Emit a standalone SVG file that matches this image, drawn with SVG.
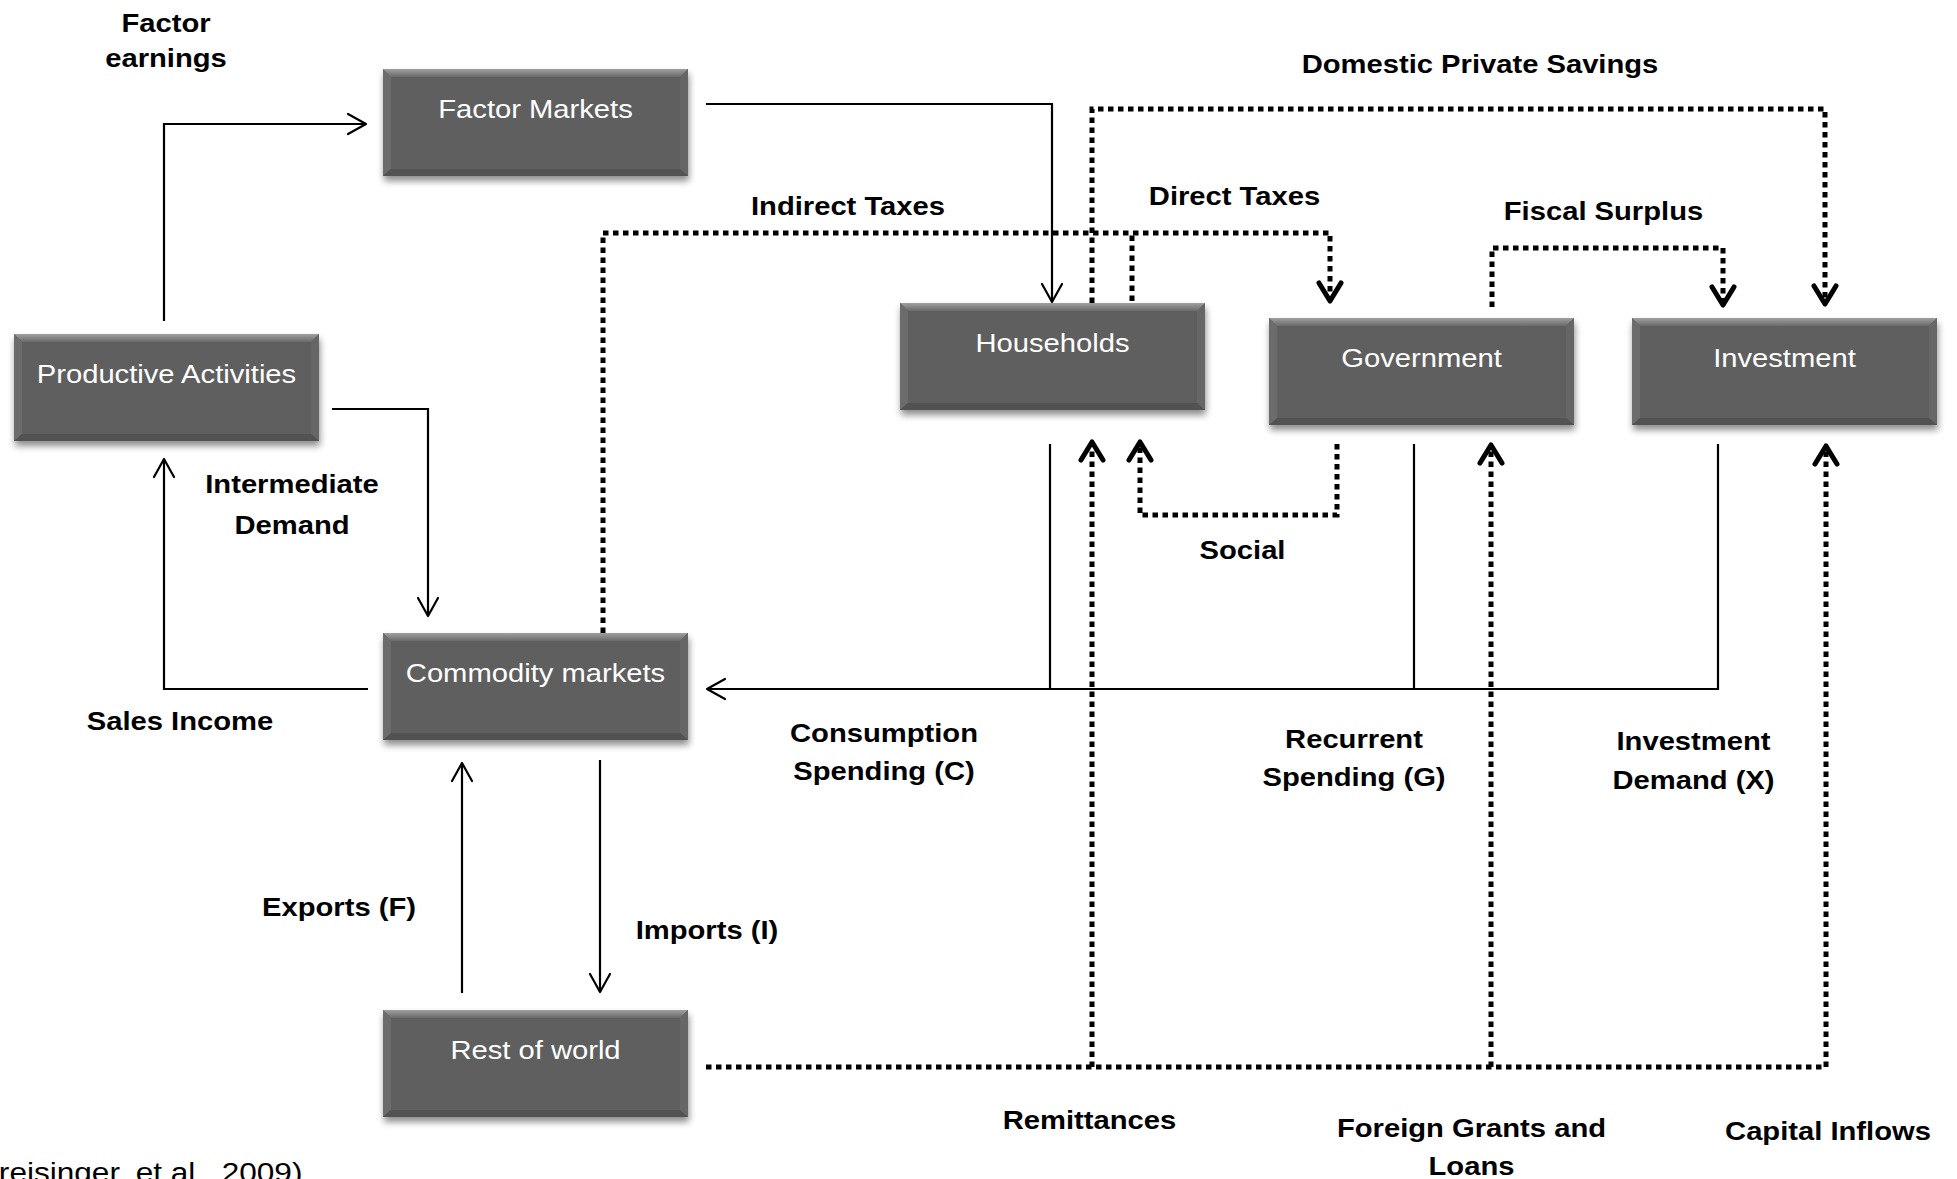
<svg xmlns="http://www.w3.org/2000/svg" xmlns:xlink="http://www.w3.org/1999/xlink" width="1957" height="1179" viewBox="0 0 1957 1179">
<style>
.bt{font-family:"Liberation Sans",Arial,sans-serif;font-size:25.6px;fill:#fff;text-anchor:middle}
.lb{font-family:"Liberation Sans",Arial,sans-serif;font-size:25.6px;font-weight:bold;fill:#000;text-anchor:middle}
.cap{font-family:"Liberation Sans",Arial,sans-serif;font-size:27.7px;fill:#000}
.sl{fill:none;stroke:#000;stroke-width:2.2;marker-end:url(#arrow)}
.sn{fill:none;stroke:#000;stroke-width:2.2}
.dl{fill:none;stroke:#000;stroke-width:5;stroke-dasharray:5.5 4.5}
.da{marker-end:url(#arrowDot)}
</style>
<defs>
<linearGradient id="topBevel" x1="0" y1="0" x2="0" y2="1">
<stop offset="0" stop-color="#a0a0a0"/>
<stop offset="1" stop-color="#6a6a6a"/>
</linearGradient>
<filter id="shadow" x="-10%" y="-20%" width="120%" height="150%">
<feGaussianBlur stdDeviation="3.5"/>
</filter>
<g id="box">
<rect x="1" y="5" width="305" height="107" fill="#000" opacity="0.45" filter="url(#shadow)"/>
<rect x="0" y="0" width="305" height="107" fill="#5f5f5f"/>
<polygon points="0,0 305,0 297,8 8,8" fill="url(#topBevel)"/>
<polygon points="0,0 8,8 8,100 0,107" fill="#6c6c6c"/>
<polygon points="305,0 297,8 297,100 305,107" fill="#666"/>
<polygon points="0,107 8,100 297,100 305,107" fill="#525252"/>
</g>
<marker id="arrow" viewBox="-21 -13 24 26" refX="0" refY="0" markerWidth="24" markerHeight="26" markerUnits="userSpaceOnUse" orient="auto">
<path d="M-18,-10 L0,0 L-18,10" fill="none" stroke="#000" stroke-width="2.2" stroke-linecap="round" stroke-linejoin="round"/>
</marker>
<marker id="arrowDot" viewBox="-20 -16 30 32" refX="0" refY="0" markerWidth="30" markerHeight="32" markerUnits="userSpaceOnUse" orient="auto">
<path d="M-14,-11 L4,0 L-14,11" fill="none" stroke="#000" stroke-width="5" stroke-linecap="round" stroke-linejoin="round"/>
</marker>
</defs>
<rect width="1957" height="1179" fill="#fff"/>

<g id="connectors">
<path class="sl" d="M164 321 V124 H366"/>
<path class="sl" d="M706 104 H1052 V302"/>
<path class="sl" d="M332 409 H428 V616"/>
<path class="sl" d="M368 689 H164 V459"/>
<path class="sl" d="M462 993 V763"/>
<path class="sl" d="M600 760 V992"/>
<path class="sn" d="M1050 444 V689"/>
<path class="sn" d="M1414 444 V689"/>
<path class="sl" d="M1718 444 V689 H707"/>
<path class="dl da" d="M603 633 V233 H1330 V297"/>
<path class="dl" d="M1132 301 V233"/>
<path class="dl da" d="M1092 303 V109 H1825 V300"/>
<path class="dl da" d="M1492 307 V248 H1723 V301"/>
<path class="dl da" d="M1337 444 V515 H1140 V446"/>
<path class="dl da" d="M706 1067 H1826 V450"/>
<path class="dl da" d="M1092 1067 V446"/>
<path class="dl da" d="M1491 1067 V449"/>
</g>

<g id="factor-markets"><use xlink:href="#box" x="383" y="69"/><text class="bt" transform="scale(1.14 1)" x="469.74" y="118">Factor Markets</text></g>
<g id="productive-activities"><use xlink:href="#box" x="14" y="334"/><text class="bt" transform="scale(1.14 1)" x="146.05" y="383">Productive Activities</text></g>
<g id="households"><use xlink:href="#box" x="900" y="303"/><text class="bt" transform="scale(1.14 1)" x="923.25" y="352">Households</text></g>
<g id="government"><use xlink:href="#box" x="1269" y="318"/><text class="bt" transform="scale(1.14 1)" x="1246.93" y="367">Government</text></g>
<g id="investment"><use xlink:href="#box" x="1632" y="318"/><text class="bt" transform="scale(1.14 1)" x="1565.35" y="367">Investment</text></g>
<g id="commodity-markets"><use xlink:href="#box" x="383" y="633"/><text class="bt" transform="scale(1.14 1)" x="469.74" y="682">Commodity markets</text></g>
<g id="rest-of-world"><use xlink:href="#box" x="383" y="1010"/><text class="bt" transform="scale(1.14 1)" x="469.74" y="1059">Rest of world</text></g>

<g id="labels" transform="scale(1.14 1)">
<text class="lb" x="145.61" y="32">Factor</text>
<text class="lb" x="145.61" y="67">earnings</text>
<text class="lb" x="1298.25" y="73">Domestic Private Savings</text>
<text class="lb" x="743.86" y="215">Indirect Taxes</text>
<text class="lb" x="1082.89" y="205">Direct Taxes</text>
<text class="lb" x="1406.58" y="220">Fiscal Surplus</text>
<text class="lb" x="256.14" y="493">Intermediate</text>
<text class="lb" x="256.14" y="534">Demand</text>
<text class="lb" x="1089.91" y="559">Social</text>
<text class="lb" x="157.89" y="730">Sales Income</text>
<text class="lb" x="775.44" y="742">Consumption</text>
<text class="lb" x="775.44" y="780">Spending (C)</text>
<text class="lb" x="1187.72" y="748">Recurrent</text>
<text class="lb" x="1187.72" y="786">Spending (G)</text>
<text class="lb" x="1485.53" y="750">Investment</text>
<text class="lb" x="1485.53" y="789">Demand (X)</text>
<text class="lb" x="297.37" y="916">Exports (F)</text>
<text class="lb" x="620.18" y="939">Imports (I)</text>
<text class="lb" x="955.70" y="1129">Remittances</text>
<text class="lb" x="1290.79" y="1137">Foreign Grants and</text>
<text class="lb" x="1290.79" y="1175">Loans</text>
<text class="lb" x="1603.51" y="1140">Capital Inflows</text>
<text class="cap" x="-1" y="1182">reisinger, et al., 2009)</text>
</g>
</svg>
